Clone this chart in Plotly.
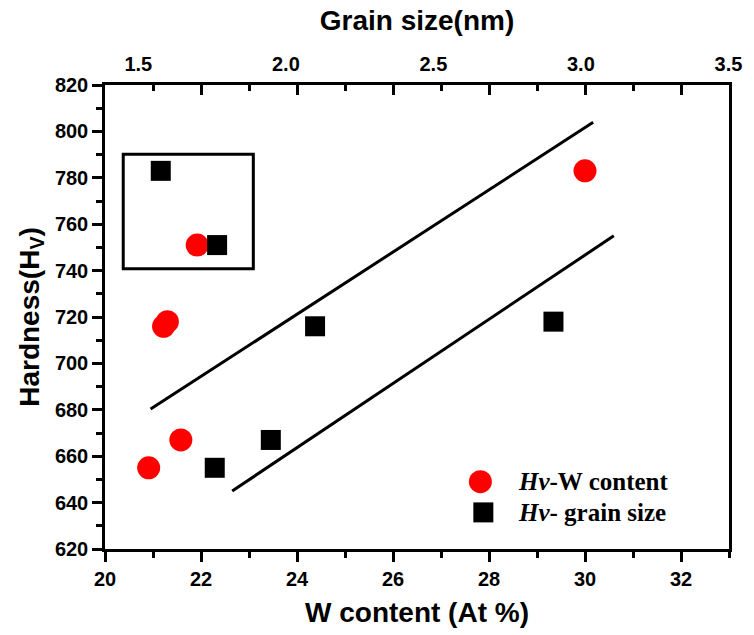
import plotly.graph_objects as go

# Hardness vs W content (bottom axis) and vs grain size (top axis)
hv_w = [655, 667, 716, 718, 751, 783]
w_content = [20.91, 21.58, 21.22, 21.30, 21.92, 30.0]

hv_g = [655, 667, 716, 718, 751, 783]
grain_size = [1.759, 1.949, 2.099, 2.907, 1.767, 1.576]

# Guide lines (W content, Hv)
upper_w = [20.95, 30.17]
upper_hv = [680.3, 803.9]
lower_w = [22.65, 30.6]
lower_hv = [645.0, 755.0]

# Highlight box (W content, Hv)
box_w = [20.38, 23.09]
box_hv = [740.8, 790.1]

x_ticks = [20, 22, 24, 26, 28, 30, 32]
top_ticks = [1.5, 2.0, 2.5, 3.0, 3.5]
y_ticks = list(range(620, 821, 20))

W, H = 754, 635
L, R, T, B = 105, 14, 85, 81
pw, ph = W - L - R, H - T - B

sans = "Liberation Sans, Arial, sans-serif"
serif = "Liberation Serif, Times New Roman, serif"
tick_font = dict(family=sans, size=20, color="black")
title_font = dict(family=sans, size=28, color="black")
LW = 2.5


def bold(v):
    return "<b>%s</b>" % v


fig = go.Figure()

fig.add_trace(go.Scatter(x=upper_w, y=upper_hv, mode="lines",
                         line=dict(color="black", width=3), showlegend=False))
fig.add_trace(go.Scatter(x=lower_w, y=lower_hv, mode="lines",
                         line=dict(color="black", width=3), showlegend=False))

fig.add_trace(go.Scatter(x=w_content, y=hv_w, mode="markers",
                         marker=dict(symbol="circle", size=23, color="#ff0000",
                                     line=dict(width=0)),
                         name="Hv-W content", showlegend=False))
fig.add_trace(go.Scatter(x=grain_size, y=hv_g, mode="markers", xaxis="x2",
                         marker=dict(symbol="square", size=20, color="black",
                                     line=dict(width=0)),
                         name="Hv- grain size", showlegend=False))

fig.add_shape(type="rect", xref="x", yref="y",
              x0=box_w[0], x1=box_w[1], y0=box_hv[0], y1=box_hv[1],
              line=dict(color="black", width=3), fillcolor="rgba(0,0,0,0)")


def px(x):
    return (x - L) / pw


def py(y):
    return (T + ph - y) / ph


# Legend keys and labels
fig.add_shape(type="circle", xref="paper", yref="paper",
              xsizemode="pixel", ysizemode="pixel",
              xanchor=px(487), yanchor=py(486),
              x0=-11.5, x1=11.5, y0=-11.5, y1=11.5,
              fillcolor="#ff0000", line=dict(width=0))
fig.add_shape(type="rect", xref="paper", yref="paper",
              xsizemode="pixel", ysizemode="pixel",
              xanchor=px(490), yanchor=py(517),
              x0=-10, x1=10, y0=-10, y1=10,
              fillcolor="black", line=dict(width=0))
legend_font = dict(family=serif, size=25, color="black")
fig.add_annotation(xref="paper", yref="paper", x=px(523), y=py(486),
                   xanchor="left", yanchor="middle", showarrow=False,
                   text="<b><i>Hv</i>-W content</b>", font=legend_font)
fig.add_annotation(xref="paper", yref="paper", x=px(523), y=py(517),
                   xanchor="left", yanchor="middle", showarrow=False,
                   text="<b><i>Hv</i>- grain size</b>", font=legend_font)

fig.update_layout(
    width=W, height=H,
    margin=dict(l=L, r=R, t=T, b=B, pad=0),
    paper_bgcolor="white", plot_bgcolor="white",
    showlegend=False,
    xaxis=dict(
        range=[20, 33], tickvals=x_ticks, ticktext=[bold(v) for v in x_ticks],
        ticks="outside", ticklen=10, tickwidth=LW, tickcolor="black",
        minor=dict(dtick=1, tick0=20, ticks="outside", ticklen=6,
                   tickwidth=LW, tickcolor="black", showgrid=False),
        showline=True, linewidth=LW, linecolor="black", mirror=False,
        showgrid=False, zeroline=False, tickfont=tick_font,
        title=dict(text=bold("W content (At %)"), font=title_font, standoff=14),
    ),
    xaxis2=dict(
        overlaying="x", side="top", anchor="y",
        range=[1.387, 3.502], tickvals=top_ticks,
        ticktext=[bold("%.1f" % v) for v in top_ticks],
        ticks="", ticklabelstandoff=9,
        showline=False, showgrid=False, zeroline=False,
        tickfont=tick_font,
        title=dict(text=bold("Grain size(nm)"), font=title_font, standoff=14),
    ),
    xaxis3=dict(
        overlaying="x", side="top", anchor="y",
        range=[20, 33], tickvals=x_ticks, showticklabels=False,
        ticks="inside", ticklen=10, tickwidth=LW, tickcolor="black",
        minor=dict(dtick=1, tick0=20, ticks="inside", ticklen=6,
                   tickwidth=LW, tickcolor="black", showgrid=False),
        showline=True, linewidth=LW, linecolor="black",
        showgrid=False, zeroline=False,
    ),
    yaxis=dict(
        range=[620, 820], tickvals=y_ticks, ticktext=[bold(v) for v in y_ticks],
        ticks="outside", ticklen=10, tickwidth=LW, tickcolor="black",
        minor=dict(dtick=10, tick0=620, ticks="outside", ticklen=6,
                   tickwidth=LW, tickcolor="black", showgrid=False),
        showline=True, linewidth=LW, linecolor="black", mirror=True,
        showgrid=False, zeroline=False, tickfont=tick_font,
        title=dict(text=bold("Hardness(H<sub>V</sub>)"), font=title_font,
                   standoff=8),
    ),
)

# attach a placeholder trace so the top tick axis is drawn
fig.add_trace(go.Scatter(x=[20], y=[None], xaxis="x3", mode="markers",
                         showlegend=False, hoverinfo="skip"))

fig.write_html("out.html")
